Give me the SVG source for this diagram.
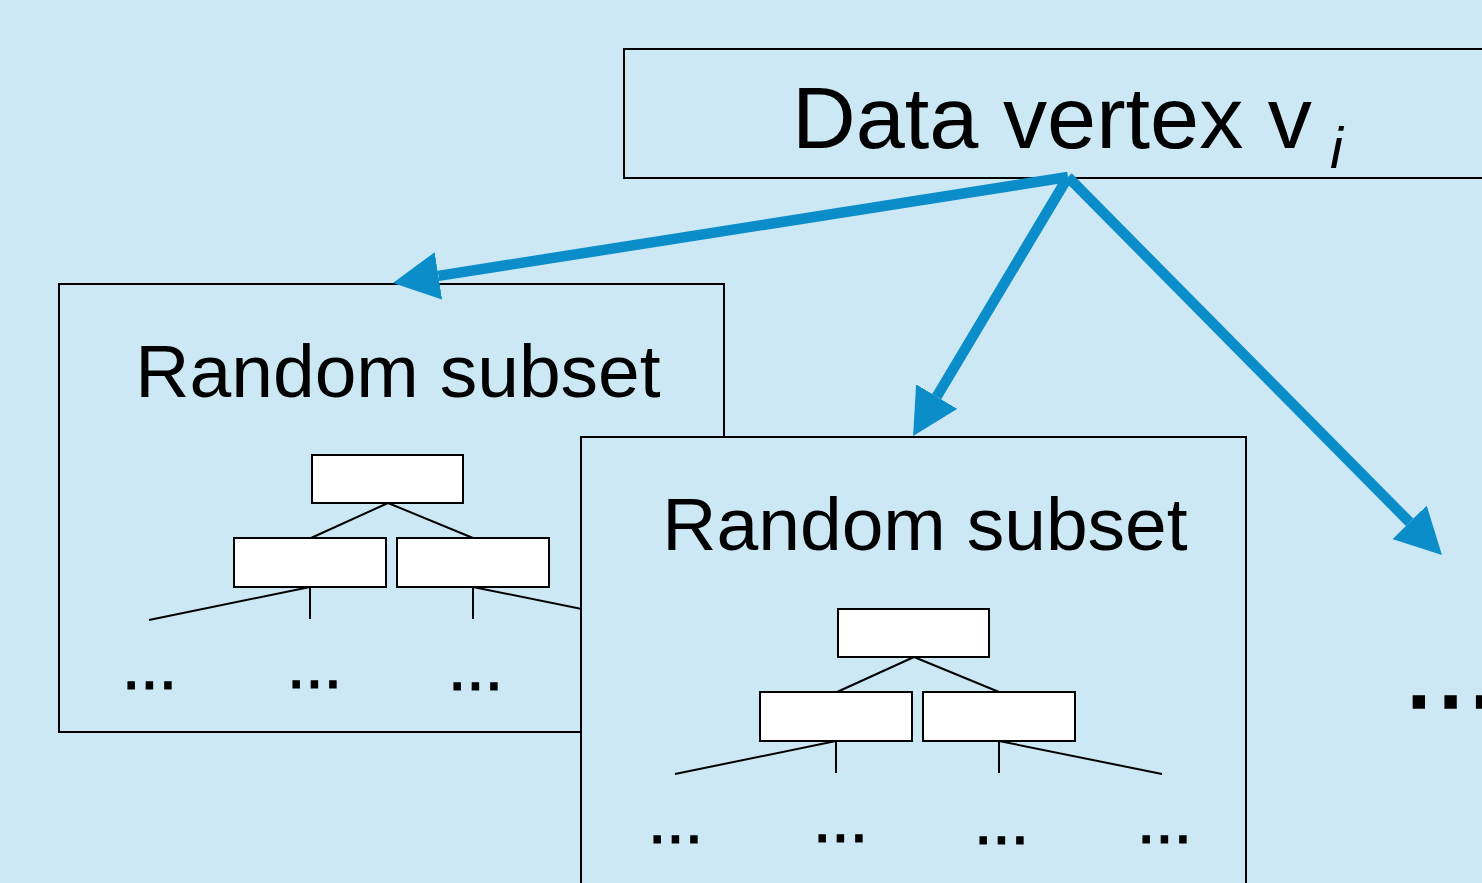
<svg xmlns="http://www.w3.org/2000/svg" width="1482" height="883" viewBox="0 0 1482 883">
<style>
.frame{fill:#CCE8F5;stroke:#000;stroke-width:2}
.leaf{fill:#fff;stroke:#000;stroke-width:2}
.edge{stroke:#000;stroke-width:2;fill:none}
.big{font-family:"Liberation Sans",Arial,sans-serif;fill:#000}
.dots{font-family:"Liberation Sans",Arial,sans-serif;font-size:66px;fill:#000;stroke:#000;stroke-width:1.2}
.conn{stroke:#0B8DCA;stroke-width:10.5;fill:none;marker-end:url(#head)}
</style>
<defs>
<marker id="head" viewBox="0 0 46 48" refX="0" refY="24" markerWidth="46" markerHeight="48" markerUnits="userSpaceOnUse" orient="auto">
<path d="M0,0 L46,24 L0,48 z" fill="#0B8DCA"/>
</marker>
<g id="tree">
<rect class="leaf" x="312" y="455" width="151" height="48"/>
<rect class="leaf" x="234" y="538" width="152" height="49"/>
<rect class="leaf" x="397" y="538" width="152" height="49"/>
<path class="edge" d="M388,503 L311,538 M388,503 L473,538 M310,587 L149,620 M310,587 L310,619 M473,587 L473,619 M473,587 L636,620"/>
</g>
</defs>
<rect width="1482" height="883" fill="#CCE8F5"/>
<g id="data-vertex">
<rect class="frame" x="624" y="49" width="870" height="129"/>
<text class="big" x="792" y="148" font-size="88" textLength="520" lengthAdjust="spacingAndGlyphs">Data vertex v</text>
<text class="big" x="1330" y="168" font-size="58" font-style="italic">i</text>
</g>
<g id="subset-1">
<rect class="frame" x="59" y="284" width="665" height="448"/>
<text class="big" x="398" y="397" font-size="75" text-anchor="middle">Random subset</text>
<use href="#tree"/>
<text class="dots" x="122" y="689">...</text>
<text class="dots" x="287" y="688">...</text>
<text class="dots" x="448" y="690">...</text>
</g>
<g id="subset-2">
<rect class="frame" x="581" y="437" width="665" height="460"/>
<text class="big" x="925" y="550" font-size="75" text-anchor="middle">Random subset</text>
<use href="#tree" transform="translate(526,154)"/>
<text class="dots" x="648" y="843">...</text>
<text class="dots" x="813" y="842">...</text>
<text class="dots" x="974" y="844">...</text>
<text class="dots" x="1137" y="843">...</text>
</g>
<g id="more">
<text class="big" x="1403" y="708" font-size="114" stroke="#000" stroke-width="1.5">...</text>
</g>
<g id="connectors">
<line class="conn" x1="1068" y1="177" x2="438.4" y2="275.9"/>
<line class="conn" x1="1068" y1="177" x2="936.7" y2="396.6"/>
<line class="conn" x1="1068" y1="177" x2="1409.6" y2="522.3"/>
</g>
</svg>
